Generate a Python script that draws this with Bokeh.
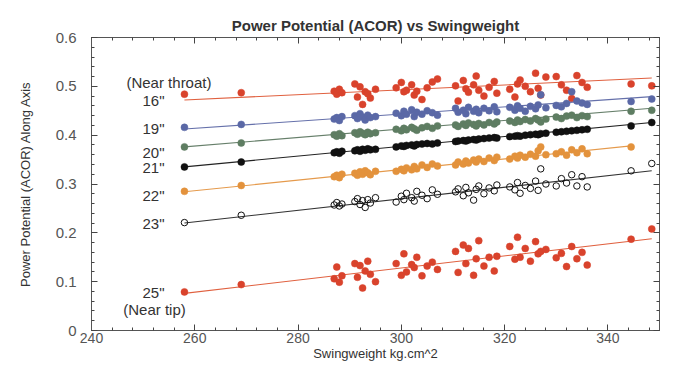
import numpy as np
from bokeh.plotting import figure
from bokeh.models import (FixedTicker, LinearAxis, CustomJSTickFormatter, Range1d,
                          ColumnDataSource)
from bokeh.core.properties import value
from bokeh.embed import file_html
from bokeh.resources import INLINE

# ---------------- data ----------------
swingweight = [258, 269,
               287, 287.5, 288, 288.5,
               291, 291.5, 292, 292.5, 293, 293.5, 294, 295,
               299, 300, 300.5, 301, 302, 302.5, 303, 304, 305, 306, 307,
               310.5, 311, 312, 312.5, 313, 314, 314.5, 315, 316, 317, 318, 318.5,
               321, 322, 322.5, 323, 324, 325, 326, 326.5, 327, 328,
               330, 331, 332, 333, 334, 335, 336,
               344.5, 348.5]

acor_16 = [0.484, 0.487,
           0.490, 0.484, 0.494, 0.487,
           0.505, 0.478, 0.499, 0.463, 0.489, 0.485, 0.476, 0.494,
           0.497, 0.508, 0.489, 0.492, 0.503, 0.482, 0.490, 0.473, 0.497, 0.509, 0.515,
           0.501, 0.470, 0.512, 0.495, 0.488, 0.503, 0.521, 0.492, 0.480, 0.498, 0.510, 0.486,
           0.494, 0.478, 0.505, 0.513, 0.500, 0.489, 0.527, 0.496, 0.482, 0.519,
           0.520, 0.503, 0.492, 0.475, 0.522, 0.508, 0.498,
           0.505, 0.501]

acor_19 = [0.416, 0.422,
           0.433, 0.436, 0.430, 0.438,
           0.440, 0.434, 0.444, 0.437, 0.431, 0.441, 0.436, 0.438,
           0.445, 0.440, 0.449, 0.443, 0.452, 0.438, 0.447, 0.443, 0.450, 0.446, 0.441,
           0.455, 0.447, 0.451, 0.444, 0.457, 0.449, 0.453, 0.446, 0.455, 0.450, 0.458, 0.448,
           0.457, 0.451, 0.460, 0.455, 0.449, 0.459, 0.454, 0.462, 0.483, 0.456,
           0.461, 0.458, 0.465, 0.489, 0.470, 0.466, 0.463,
           0.469, 0.474]

acor_20 = [0.376, 0.384,
           0.401, 0.398, 0.403, 0.399,
           0.405, 0.402, 0.407, 0.404, 0.401, 0.406, 0.403, 0.405,
           0.412, 0.409, 0.414, 0.411, 0.416, 0.413, 0.410, 0.415, 0.418, 0.414, 0.419,
           0.421, 0.418, 0.423, 0.420, 0.425, 0.422, 0.419, 0.424, 0.421, 0.426, 0.423, 0.427,
           0.429, 0.426, 0.431, 0.428, 0.432, 0.429, 0.434, 0.431, 0.427, 0.433,
           0.437, 0.434, 0.439, 0.441, 0.436, 0.440, 0.438,
           0.449, 0.451]

acor_21 = [0.335, 0.345,
           0.364, 0.366, 0.363, 0.367,
           0.368, 0.370, 0.367, 0.371, 0.369, 0.372, 0.370, 0.371,
           0.376, 0.378, 0.377, 0.379, 0.380, 0.378, 0.381, 0.382, 0.383, 0.382, 0.384,
           0.387, 0.388, 0.389, 0.388, 0.390, 0.391, 0.390, 0.392, 0.393, 0.394, 0.395, 0.394,
           0.397, 0.398, 0.399, 0.398, 0.400, 0.401, 0.402, 0.401, 0.403, 0.404,
           0.406, 0.407, 0.408, 0.409, 0.410, 0.411, 0.412,
           0.419, 0.426]

acor_22 = [0.285, 0.297,
           0.315, 0.318, 0.313, 0.320,
           0.322, 0.318, 0.325, 0.320, 0.327, 0.323, 0.319, 0.326,
           0.326, 0.330, 0.327, 0.333, 0.329, 0.336, 0.331, 0.339, 0.334, 0.341, 0.337,
           0.339, 0.345, 0.341, 0.347, 0.343, 0.349, 0.345, 0.351, 0.346, 0.353, 0.348, 0.355,
           0.351, 0.357, 0.353, 0.359, 0.355, 0.361, 0.357, 0.368, 0.376, 0.360,
           0.362, 0.366, 0.359, 0.370, 0.364, 0.372, 0.362,
           0.376, None]

acor_23 = [0.221, 0.236,
           0.257, 0.262, 0.255, 0.259,
           0.264, 0.270, 0.258, 0.266, 0.252, 0.268, 0.261, 0.272,
           0.263, 0.275, 0.268, 0.281, 0.272, 0.265, 0.285, 0.277, 0.270, 0.288, 0.279,
           0.284, 0.290, 0.276, 0.293, 0.282, 0.267, 0.289, 0.296, 0.280, 0.292, 0.286, 0.298,
           0.294, 0.288, 0.303, 0.281, 0.297, 0.291, 0.306, 0.287, 0.331, 0.300,
           0.296, 0.311, 0.302, 0.319, 0.296, 0.315, 0.294,
           0.327, 0.342]

acor_25 = [0.079, 0.094,
           0.106, 0.130, 0.099, 0.112,
           0.137, 0.109, 0.133, 0.087, 0.122, 0.142, 0.115, 0.100,
           0.137, 0.113, 0.157, 0.120, 0.135, 0.129, 0.150, 0.112, 0.132, 0.140, 0.125,
           0.162, 0.119, 0.175, 0.137, 0.168, 0.113, 0.147, 0.184, 0.132, 0.150, 0.122, 0.152,
           0.172, 0.146, 0.191, 0.150, 0.168, 0.142, 0.182, 0.157, 0.162, 0.166,
           0.149, 0.158, 0.131, 0.172, 0.147, 0.160, 0.134,
           0.187, 0.208]

series_names = ['16"', '19"', '20"', '21"', '22"', '23"', '25"']
series_values = [acor_16, acor_19, acor_20, acor_21, acor_22, acor_23, acor_25]

# fit lines: start (x, y) and end (x, y)
fit_x_start = [258, 258, 258, 258, 258, 258, 258]
fit_y_start = [0.472, 0.4125, 0.376, 0.335, 0.284, 0.220, 0.076]
fit_x_end = [348.5, 348.5, 348.5, 348.5, 344.5, 348.5, 348.5]
fit_y_end = [0.517, 0.479, 0.455, 0.426, 0.378, 0.327, 0.188]

series_colors = ["#d9432c", "#5a68a6", "#5e7d62", "#111111", "#e3923c", "#111111", "#d9432c"]
line_colors = ["#e0603f", "#6570aa", "#667f6a", "#222222", "#e59a4c", "#333333", "#e0603f"]
series_open = [False, False, False, False, False, True, False]

# left-side labels (text, x, y)
label_texts = ["(Near throat)", '16"', '19"', '20"', '21"', '22"', '23"', '25"', "(Near tip)"]
label_x = [255.0, 252.0, 252.0, 252.0, 252.0, 252.0, 252.0, 252.0, 252.2]
label_y = [0.507, 0.472, 0.414, 0.364, 0.333, 0.277, 0.220, 0.078, 0.042]

x_major = [240, 260, 280, 300, 320, 340]
y_major = [0, 0.1, 0.2, 0.3, 0.4, 0.5, 0.6]

FONT = "Liberation Sans"

p = figure(width=661, height=363, output_backend="svg", toolbar_location=None,
           x_range=Range1d(240, 350), y_range=Range1d(0, 0.6),
           min_border_left=91, min_border_right=2, min_border_top=37, min_border_bottom=20)
p.title.text = "Power Potential (ACOR) vs Swingweight"
p.title.align = "center"
p.title.text_font = FONT
p.title.text_font_size = "15px"
p.title.text_font_style = "bold"
p.title.text_color = "#333333"
p.title.offset = 0
p.title.standoff = 8
p.grid.visible = False
p.outline_line_color = "#555555"
p.background_fill_color = "white"
p.border_fill_color = "white"

x_minor = [float(v) for v in np.arange(240, 351, 4)]
y_minor = [round(float(v), 2) for v in np.arange(0, 0.601, 0.02)]

xt = FixedTicker(ticks=x_major, minor_ticks=x_minor)
yt = FixedTicker(ticks=y_major, minor_ticks=y_minor)
yfmt = CustomJSTickFormatter(code="return tick == 0 ? '0' : tick.toFixed(1);")
blankfmt = CustomJSTickFormatter(code="return '';")


def style_axis(ax, labels=True):
    ax.axis_line_color = "#555555"
    ax.major_tick_line_color = "#444444"
    ax.minor_tick_line_color = "#444444"
    ax.major_tick_in = 6
    ax.major_tick_out = 0
    ax.minor_tick_in = 3
    ax.minor_tick_out = 0
    ax.major_label_text_font = FONT
    ax.major_label_text_color = "#555555"
    ax.major_label_text_font_size = "15px"
    ax.axis_label_text_font = FONT
    ax.axis_label_text_font_style = "normal"
    ax.axis_label_text_color = "#333333"
    if not labels:
        ax.formatter = blankfmt
        ax.major_label_standoff = 0


xa = p.xaxis[0]
xa.ticker = xt
style_axis(xa)
xa.major_label_standoff = 2
xa.major_label_text_font_size = "14px"
xa.axis_label = "Swingweight kg.cm^2"
xa.axis_label_text_font_size = "13px"
xa.axis_label_standoff = 0

ya = p.yaxis[0]
ya.ticker = yt
ya.formatter = yfmt
style_axis(ya)
ya.major_label_standoff = 15
ya.axis_label = "Power Potential (ACOR) Along Axis"
ya.axis_label_text_font_size = "13px"
ya.axis_label_standoff = 20

top = LinearAxis(ticker=xt)
style_axis(top, labels=False)
p.add_layout(top, "above")
right = LinearAxis(ticker=yt)
style_axis(right, labels=False)
p.add_layout(right, "right")

sw = np.array(swingweight, dtype=float)
for i, (vals, col, lcol, is_open) in enumerate(zip(series_values, series_colors,
                                                    line_colors, series_open)):
    y = np.array([np.nan if v is None else v for v in vals], dtype=float)
    ok = ~np.isnan(y)
    xs, ys = sw[ok], y[ok]
    p.line([fit_x_start[i], fit_x_end[i]], [fit_y_start[i], fit_y_end[i]],
           line_color=lcol, line_width=1.1)
    src = ColumnDataSource(dict(x=xs, y=ys))
    if is_open:
        p.scatter("x", "y", source=src, marker="circle", size=6.5, fill_color="white",
                  fill_alpha=0.0, line_color=col, line_width=1)
    else:
        p.scatter("x", "y", source=src, marker="circle", size=7, fill_color=col,
                  line_color=col, line_width=0.5)

lab_src = ColumnDataSource(dict(x=label_x, y=label_y, t=label_texts))
p.text("x", "y", text="t", source=lab_src, text_align="center", text_baseline="middle",
       text_font=value(FONT), text_font_size="15px", text_color="#333333")

open("out.html", "w").write(file_html(p, INLINE))
